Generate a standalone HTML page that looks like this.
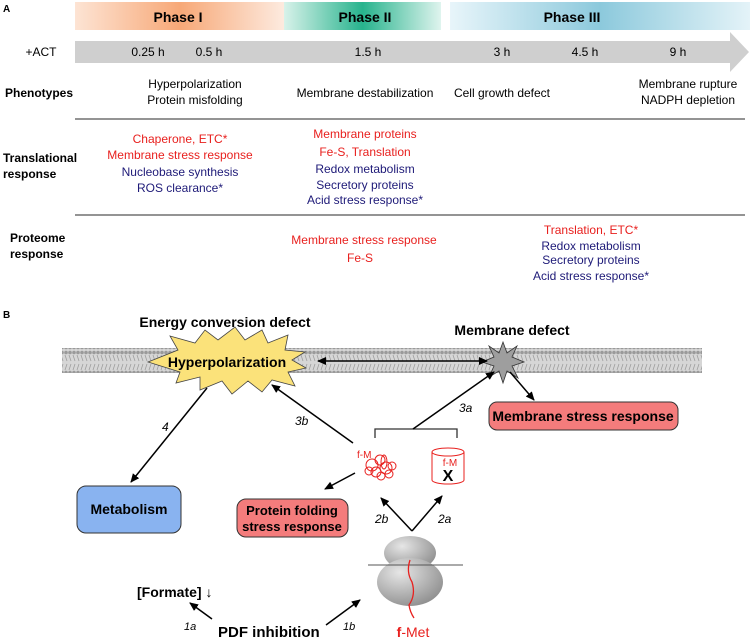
<!DOCTYPE html>
<html><head><meta charset="utf-8"><style>
html,body{margin:0;padding:0;background:#fff;}
svg{display:block;font-family:"Liberation Sans",Arial,sans-serif;}
.b{font-family:"Liberation Sans",Arial,sans-serif;font-weight:bold;}
.r{fill:#e8201e;}
.n{fill:#1e1a78;}
</style></head><body>
<svg width="750" height="639" viewBox="0 0 750 639" xmlns="http://www.w3.org/2000/svg">
<defs>
<linearGradient id="g1" x1="0" x2="1"><stop offset="0" stop-color="#fde4d4"/><stop offset="0.5" stop-color="#f7a877"/><stop offset="1" stop-color="#fdebe0"/></linearGradient>
<linearGradient id="g2" x1="0" x2="1"><stop offset="0" stop-color="#d8f2ea"/><stop offset="0.5" stop-color="#27b38d"/><stop offset="1" stop-color="#dff4ee"/></linearGradient>
<linearGradient id="g3" x1="0" x2="1"><stop offset="0" stop-color="#e8f5fa"/><stop offset="0.5" stop-color="#8cc9dc"/><stop offset="1" stop-color="#e4f3f8"/></linearGradient>
<pattern id="mem" width="4" height="25" patternUnits="userSpaceOnUse">
<rect width="4" height="25" fill="#d6d6d6"/>
<circle cx="2" cy="2.5" r="1.8" fill="#9a9a9a"/><circle cx="2" cy="22.5" r="1.8" fill="#9a9a9a"/>
<path d="M1 5 L3 11 M3 14 L1 20" stroke="#9e9e9e" stroke-width="0.8"/>
</pattern>
<marker id="ah" markerWidth="10" markerHeight="10" refX="8" refY="5" orient="auto" markerUnits="userSpaceOnUse"><path d="M0,1 L9,5 L0,9 Z" fill="#000"/></marker>
<marker id="ahs" markerWidth="10" markerHeight="10" refX="1" refY="5" orient="auto" markerUnits="userSpaceOnUse"><path d="M9,1 L0,5 L9,9 Z" fill="#000"/></marker>
<radialGradient id="rib" cx="0.35" cy="0.3" r="0.8"><stop offset="0" stop-color="#e6e6e6"/><stop offset="1" stop-color="#8a8a8a"/></radialGradient>
</defs>

<text x="3" y="12" font-size="10" class="b">A</text>
<rect x="75" y="2" width="210" height="28" fill="url(#g1)"/>
<rect x="284" y="2" width="157" height="28" fill="url(#g2)"/>
<rect x="450" y="2" width="300" height="28" fill="url(#g3)"/>
<text x="178" y="22" font-size="14" font-weight="bold" text-anchor="middle">Phase I</text>
<text x="365" y="22" font-size="14" font-weight="bold" text-anchor="middle">Phase II</text>
<text x="572" y="22" font-size="14" font-weight="bold" text-anchor="middle">Phase III</text>
<path d="M75 41 H730 V32 L749 52 L730 72 V63 H75 Z" fill="#cfcfcf"/>
<g font-size="12" text-anchor="middle">
<text x="41" y="56">+ACT</text>
<text x="148" y="56">0.25 h</text>
<text x="209" y="56">0.5 h</text>
<text x="368" y="56">1.5 h</text>
<text x="502" y="56">3 h</text>
<text x="585" y="56">4.5 h</text>
<text x="678" y="56">9 h</text>
<text x="195" y="88">Hyperpolarization</text>
<text x="195" y="104">Protein misfolding</text>
<text x="365" y="97">Membrane destabilization</text>
<text x="502" y="97">Cell growth defect</text>
<text x="688" y="88">Membrane rupture</text>
<text x="688" y="104">NADPH depletion</text>
</g>
<text x="5" y="97" font-size="12" font-weight="bold">Phenotypes</text>
<line x1="75" y1="119" x2="745" y2="119" stroke="#555" stroke-width="1.3"/>
<text x="3" y="162" font-size="12" font-weight="bold">Translational</text>
<text x="3" y="178" font-size="12" font-weight="bold">response</text>
<g font-size="12" text-anchor="middle">
<text class="r" x="180" y="143">Chaperone, ETC*</text>
<text class="r" x="180" y="159">Membrane stress response</text>
<text class="n" x="180" y="176">Nucleobase synthesis</text>
<text class="n" x="180" y="192">ROS clearance*</text>
<text class="r" x="365" y="138">Membrane proteins</text>
<text class="r" x="365" y="156">Fe-S, Translation</text>
<text class="n" x="365" y="173">Redox metabolism</text>
<text class="n" x="365" y="189">Secretory proteins</text>
<text class="n" x="365" y="204">Acid stress response*</text>
<text class="r" x="364" y="244">Membrane stress response</text>
<text class="r" x="360" y="262">Fe-S</text>
<text class="r" x="591" y="234">Translation, ETC*</text>
<text class="n" x="591" y="250">Redox metabolism</text>
<text class="n" x="591" y="264">Secretory proteins</text>
<text class="n" x="591" y="280">Acid stress response*</text>
</g>
<line x1="75" y1="215" x2="745" y2="215" stroke="#555" stroke-width="1.3"/>
<text x="10" y="242" font-size="12" font-weight="bold">Proteome</text>
<text x="10" y="258" font-size="12" font-weight="bold">response</text>

<text x="3" y="318" font-size="10" class="b">B</text>
<rect x="62" y="348" width="640" height="25" fill="url(#mem)"/>
<text x="225" y="327" font-size="14" class="b" text-anchor="middle">Energy conversion defect</text>
<text x="512" y="335" font-size="14" class="b" text-anchor="middle">Membrane defect</text>
<polygon fill="#fbe27a" stroke="#444" stroke-width="0.8" points="148,362 178,350 170,336 195,343 205,330 218,340 235,327 245,340 262,330 268,343 288,335 285,350 305,352 292,360 306,368 288,372 295,386 272,380 262,392 248,381 232,394 222,381 200,390 200,377 176,383 180,372"/>
<text x="227" y="367" font-size="14" class="b" text-anchor="middle">Hyperpolarization</text>
<polygon fill="#9e9e9e" stroke="#333" stroke-width="0.8" points="503,342 507,353 517,346 512,357 524,362 512,366 518,378 507,371 503,383 499,371 489,377 494,366 482,362 494,357 489,346 499,353"/>
<line x1="318" y1="361" x2="487" y2="361" stroke="#000" stroke-width="1.5" marker-end="url(#ah)" marker-start="url(#ahs)"/>
<line x1="510" y1="372" x2="534" y2="400" stroke="#000" stroke-width="1.5" marker-end="url(#ah)"/>
<rect x="489" y="402" width="189" height="28" rx="8" fill="#f47c7c" stroke="#333" stroke-width="1"/>
<text x="583" y="421" font-size="14" class="b" text-anchor="middle">Membrane stress response</text>
<path d="M375 438 V429 H457 V438" fill="none" stroke="#333" stroke-width="1.3"/>
<line x1="413" y1="429" x2="494" y2="372" stroke="#000" stroke-width="1.5" marker-end="url(#ah)"/>
<text x="459" y="412" font-size="12" font-style="italic">3a</text>
<line x1="353" y1="443" x2="272" y2="385" stroke="#000" stroke-width="1.5" marker-end="url(#ah)"/>
<text x="295" y="425" font-size="12" font-style="italic">3b</text>
<line x1="207" y1="388" x2="131" y2="482" stroke="#000" stroke-width="1.5" marker-end="url(#ah)"/>
<text x="162" y="431" font-size="12" font-style="italic">4</text>
<rect x="77" y="486" width="104" height="47" rx="9" fill="#89b3f0" stroke="#333" stroke-width="1"/>
<text x="129" y="514" font-size="14" class="b" text-anchor="middle">Metabolism</text>
<text x="357" y="458" font-size="10" fill="#e8201e">f-M</text>
<g fill="none" stroke="#e8201e" stroke-width="1">
<circle cx="372" cy="465" r="6"/><circle cx="380" cy="460" r="5"/><circle cx="386" cy="468" r="6"/><circle cx="376" cy="472" r="5"/><circle cx="392" cy="466" r="4"/><circle cx="381" cy="476" r="4"/><ellipse cx="384" cy="462" rx="3" ry="7"/><circle cx="369" cy="471" r="4"/><circle cx="389" cy="474" r="4"/>
</g>
<g fill="none" stroke="#e8201e" stroke-width="1">
<ellipse cx="448" cy="452" rx="16" ry="4"/><path d="M432 452 V480 A16 4 0 0 0 464 480 V452"/>
</g>
<text x="450" y="466" font-size="10" fill="#e8201e" text-anchor="middle">f-M</text>
<text x="448" y="481" font-size="16" class="b" text-anchor="middle">X</text>
<line x1="355" y1="473" x2="325" y2="489" stroke="#000" stroke-width="1.5" marker-end="url(#ah)"/>
<rect x="237" y="499" width="111" height="38" rx="9" fill="#f47c7c" stroke="#333" stroke-width="1"/>
<text x="292" y="515" font-size="13" class="b" text-anchor="middle">Protein folding</text>
<text x="292" y="531" font-size="13" class="b" text-anchor="middle">stress response</text>
<line x1="412" y1="531" x2="381" y2="498" stroke="#000" stroke-width="1.5" marker-end="url(#ah)"/>
<line x1="412" y1="531" x2="442" y2="496" stroke="#000" stroke-width="1.5" marker-end="url(#ah)"/>
<text x="375" y="523" font-size="12" font-style="italic">2b</text>
<text x="438" y="523" font-size="12" font-style="italic">2a</text>
<ellipse cx="410" cy="553" rx="26" ry="17" fill="url(#rib)"/>
<ellipse cx="410" cy="582" rx="33" ry="24" fill="url(#rib)"/>
<line x1="368" y1="565" x2="463" y2="565" stroke="#555" stroke-width="1"/>
<path d="M410 560 Q406 572 412 582 Q416 595 409 605 Q410 612 414 618" fill="none" stroke="#e8201e" stroke-width="1.3"/>
<text x="413" y="637" font-size="14" text-anchor="middle"><tspan fill="#e8201e" font-weight="bold">f</tspan><tspan fill="#e8201e">-Met</tspan></text>
<text x="137" y="597" font-size="14" font-weight="bold">[Formate] <tspan font-weight="normal">↓</tspan></text>
<text x="218" y="637" font-size="15" font-weight="bold">PDF inhibition</text>
<line x1="212" y1="619" x2="190" y2="603" stroke="#000" stroke-width="1.5" marker-end="url(#ah)"/>
<text x="184" y="630" font-size="11" font-style="italic">1a</text>
<line x1="326" y1="625" x2="360" y2="600" stroke="#000" stroke-width="1.5" marker-end="url(#ah)"/>
<text x="343" y="630" font-size="11" font-style="italic">1b</text>
</svg>
</body></html>
